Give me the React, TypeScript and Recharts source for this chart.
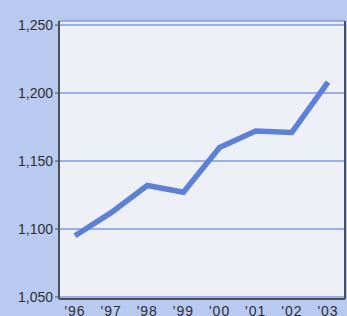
import { CartesianGrid, Line, LineChart, XAxis, YAxis } from "recharts";

const years = ["'96", "'97", "'98", "'99", "'00", "'01", "'02", "'03"];
const values = [1095, 1112, 1132, 1127, 1160, 1172, 1171, 1208];
const yTicks = [1050, 1100, 1150, 1200, 1250];

const data = years.map((year, i) => ({ year, value: values[i] }));

const fmt = (v: number) => v.toLocaleString("en-US");

const App = () => {
	return (
		<div
			style={{
				position: "absolute",
				top: 0,
				left: 0,
				width: 347,
				height: 316,
				background: "#b8caf0",
				fontFamily: "'Liberation Sans', Arial, sans-serif",
			}}
		>
			<LineChart
				width={347}
				height={316}
				data={data}
				margin={{ top: 21, right: 0, bottom: 0, left: 0 }}
			>
				<CartesianGrid
					vertical={false}
					stroke='#7e9be0'
					strokeWidth={1.5}
					fill='#eef0f8'
					fillOpacity={1}
				/>
				<XAxis
					xAxisId='top'
					orientation='top'
					dataKey='year'
					height={0}
					tick={false}
					tickLine={false}
					axisLine={{ stroke: "#4a5058", strokeWidth: 2 }}
				/>
				<XAxis
					dataKey='year'
					height={17}
					padding={{ left: 16, right: 17 }}
					tickLine={false}
					tickMargin={1}
					interval={0}
					axisLine={{ stroke: "#4a5058", strokeWidth: 2 }}
					tick={{ fill: "#2e2e33", fontSize: 14, letterSpacing: 1 }}
				/>
				<YAxis
					width={59}
					domain={[1048.5, 1253]}
					ticks={yTicks}
					tickFormatter={fmt}
					tickSize={4}
					tickMargin={2}
					axisLine={{ stroke: "#4a5058", strokeWidth: 2 }}
					tickLine={{ stroke: "#4a5058" }}
					tick={{ fill: "#2e2e33", fontSize: 14 }}
				/>
				<YAxis
					yAxisId='r'
					orientation='right'
					width={2}
					domain={[1048.5, 1253]}
					tick={false}
					tickLine={false}
					axisLine={{ stroke: "#4a5058", strokeWidth: 2 }}
				/>
				<Line
					type='linear'
					dataKey='value'
					stroke='#5a82dc'
					strokeWidth={5.5}
					dot={false}
					isAnimationActive={false}
				/>
			</LineChart>
		</div>
	);
};

export default App;
